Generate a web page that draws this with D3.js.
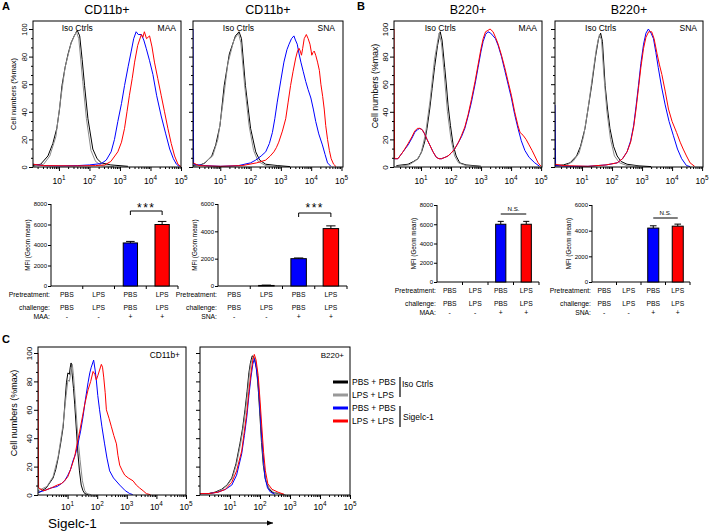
<!DOCTYPE html>
<html><head><meta charset="utf-8">
<script src="https://cdn.jsdelivr.net/npm/d3@7"></script>
<style>body{margin:0;background:#fff} svg{display:block;font-family:"Liberation Sans",Arial,sans-serif}</style>
</head><body><svg id="c" width="713" height="531"></svg>
<script>
// ---------------- DATA ----------------
// histogram curves: [log10(fluorescence), % of max]
const cd11bMAA_isoPBS = [[0.15,1],[0.4,2],[0.64,8],[0.8,17],[0.93,28],[1.02,42],[1.1,59],[1.2,72],[1.3,82],[1.4,90],[1.5,95],[1.6,99],[1.68,95],[1.76,78],[1.84,59],[1.95,35],[2.11,13],[2.25,6],[2.39,3],[2.7,1.5],[3.26,0.5]];
const cd11bMAA_isoLPS = [[0.15,0.5],[0.5,2],[0.7,8],[0.9,22],[1.05,48],[1.2,72],[1.4,90],[1.57,98],[1.65,93],[1.78,62],[1.9,35],[2.05,12],[2.2,4],[2.4,1],[2.8,0.3]];
const cd11bMAA_PBS = [[0.15,2],[0.5,1],[1.0,0.8],[1.6,1],[2.0,1.5],[2.39,2.5],[2.55,5],[2.71,11],[2.82,20],[2.93,33],[3.05,46],[3.15,59],[3.27,73],[3.37,84],[3.45,93],[3.53,98],[3.6,96],[3.7,96],[3.78,92],[3.86,86],[3.97,77],[4.08,67],[4.2,52],[4.35,37],[4.5,24],[4.63,13],[4.75,6],[4.85,2],[4.95,0.3]];
const cd11bMAA_LPS = [[0.15,2],[0.5,1],[1.5,0.8],[2.2,1],[2.5,1.5],[2.7,4],[2.93,11],[3.05,18],[3.15,28],[3.23,40],[3.31,52],[3.4,64],[3.48,76],[3.58,88],[3.7,96],[3.75,94],[3.8,98],[3.87,93],[3.97,95],[4.05,87],[4.13,76],[4.24,64],[4.35,52],[4.46,40],[4.57,28],[4.68,17],[4.79,8],[4.9,2],[5.0,0.3]];

const cd11bSNA_isoPBS = [[0.1,1],[0.29,1],[0.5,3],[0.72,8],[0.85,16],[0.99,30],[1.13,59],[1.3,82],[1.5,95],[1.62,98],[1.7,93],[1.83,59],[2.0,28],[2.17,11],[2.3,5],[2.5,2],[2.9,1],[3.3,0.3]];
const cd11bSNA_isoLPS = [[0.1,0.5],[0.4,1.5],[0.75,8],[0.92,20],[1.08,45],[1.25,75],[1.45,92],[1.6,97],[1.68,90],[1.8,60],[1.95,30],[2.1,12],[2.25,4],[2.5,1],[3.0,0.3]];
const cd11bSNA_PBS = [[0.1,100],[0.12,2],[0.5,1],[1.0,0.5],[1.6,1],[2.0,3],[2.17,5],[2.35,8],[2.5,11],[2.62,17],[2.72,25],[2.8,35],[2.88,47],[3.0,63],[3.1,76],[3.2,85],[3.27,89],[3.35,93],[3.43,95],[3.48,92],[3.54,89],[3.6,82],[3.66,76],[3.74,69],[3.82,62],[3.9,56],[3.99,50],[4.07,42],[4.15,33],[4.25,24],[4.37,16],[4.46,9],[4.54,3],[4.65,0.5]];
const cd11bSNA_LPS = [[0.1,3],[0.3,1],[1.0,0.5],[1.72,1],[2.2,3],[2.5,5],[2.65,8],[2.77,11],[2.85,14],[2.93,18],[3.05,26],[3.16,35],[3.24,47],[3.32,59],[3.4,69],[3.49,79],[3.55,84],[3.6,86],[3.64,84],[3.68,81],[3.72,86],[3.77,93],[3.84,96],[3.9,93],[3.96,89],[4.0,84],[4.02,81],[4.06,83],[4.1,84],[4.15,81],[4.21,76],[4.27,70],[4.32,60],[4.38,51],[4.43,42],[4.48,30],[4.54,20],[4.6,12],[4.66,6],[4.74,2],[4.82,0.3]];

const b220MAA_isoPBS = [[0.18,1],[0.57,2],[0.75,4],[0.9,6],[1.02,11],[1.12,18],[1.2,28],[1.29,42],[1.37,57],[1.45,72],[1.55,88],[1.64,98],[1.7,92],[1.79,72],[1.85,58],[1.9,45],[1.98,30],[2.07,16],[2.17,8],[2.29,3],[2.5,1.5],[3.0,0.5]];
const b220MAA_isoLPS = [[0.18,0.5],[0.6,1.5],[0.85,5],[1.0,10],[1.15,24],[1.3,48],[1.45,78],[1.6,97],[1.68,90],[1.77,68],[1.88,40],[2.0,20],[2.12,8],[2.25,3],[2.5,1],[3.0,0.3]];
const b220MAA_PBS = [[0.1,6],[0.23,6],[0.4,11],[0.57,16],[0.7,21],[0.79,25],[0.88,27],[0.96,28],[1.04,27],[1.12,24],[1.2,20],[1.29,16],[1.4,11],[1.51,7],[1.6,6],[1.68,6],[1.8,7],[1.9,8],[2.0,10],[2.12,13],[2.25,18],[2.35,22],[2.46,28],[2.57,37],[2.68,47],[2.8,60],[2.9,72],[3.0,84],[3.07,91],[3.15,96],[3.23,98],[3.32,97],[3.4,95],[3.48,93],[3.57,88],[3.68,80],[3.79,70],[3.9,60],[4.01,50],[4.12,38],[4.23,28],[4.34,19],[4.46,12],[4.6,7],[4.79,3],[4.95,0.5]];
const b220MAA_LPS = [[0.1,100],[0.12,6],[0.23,6],[0.4,11],[0.57,17],[0.7,22],[0.79,26],[0.88,28],[0.96,28],[1.04,27],[1.12,24],[1.2,20],[1.29,16],[1.4,11],[1.51,7],[1.6,6],[1.68,6],[1.8,7],[1.9,8],[2.0,10],[2.12,13],[2.25,18],[2.35,23],[2.46,29],[2.57,38],[2.68,49],[2.8,62],[2.9,74],[3.0,86],[3.07,93],[3.15,98],[3.23,99],[3.3,100],[3.4,98],[3.48,94],[3.57,89],[3.68,81],[3.79,72],[3.9,62],[4.01,52],[4.12,40],[4.23,30],[4.3,25],[4.4,23],[4.5,20],[4.6,16],[4.7,12],[4.79,8],[4.9,3],[5.0,0.5]];

const b220SNA_isoPBS = [[0.1,1],[0.38,1.5],[0.6,3],[0.82,8],[0.95,15],[1.1,28],[1.2,42],[1.32,59],[1.45,80],[1.55,93],[1.62,97],[1.68,91],[1.77,59],[1.85,42],[1.93,28],[2.05,15],[2.17,8],[2.3,4],[2.5,2],[2.9,0.8],[3.3,0.3]];
const b220SNA_isoLPS = [[0.1,0.5],[0.45,1],[0.7,4],[0.9,10],[1.05,22],[1.2,42],[1.35,66],[1.48,86],[1.58,96],[1.65,92],[1.73,66],[1.83,40],[1.95,20],[2.08,8],[2.25,3],[2.5,1],[3.0,0.3]];
const b220SNA_PBS = [[0.1,45],[0.12,1],[0.6,0.5],[1.2,0.5],[1.8,1.5],[2.17,3],[2.35,6],[2.5,11],[2.62,19],[2.72,30],[2.8,44],[2.88,59],[2.96,75],[3.05,89],[3.13,97],[3.21,100],[3.3,97],[3.38,93],[3.46,83],[3.54,72],[3.65,58],[3.77,45],[3.9,33],[4.04,23],[4.18,13],[4.32,6],[4.48,1],[4.6,0.3]];
const b220SNA_LPS = [[0.1,2],[0.4,1],[1.2,0.5],[1.8,1.5],[2.17,3],[2.35,6],[2.5,11],[2.62,18],[2.72,29],[2.8,42],[2.88,57],[2.96,72],[3.05,86],[3.13,94],[3.22,98],[3.32,98],[3.4,93],[3.5,82],[3.58,74],[3.66,67],[3.77,55],[3.88,42],[4.0,33],[4.15,25],[4.27,18],[4.37,13],[4.48,8],[4.6,3],[4.75,0.5]];

const siglecCD11b_isoPBS = [[0,2],[0.06,2],[0.28,5],[0.51,12],[0.6,18],[0.68,26],[0.77,37],[0.85,48],[0.9,62],[0.96,79],[1.01,86],[1.06,85],[1.09,90],[1.12,93],[1.15,86],[1.2,75],[1.24,64],[1.3,45],[1.35,29],[1.4,17],[1.46,7],[1.52,3],[1.58,1],[1.7,0.2]];
const siglecCD11b_isoLPS = [[0,3],[0.1,4],[0.3,6],[0.51,13],[0.68,27],[0.85,50],[0.95,70],[1.01,81],[1.06,80],[1.12,88],[1.16,92],[1.2,84],[1.27,64],[1.35,40],[1.42,25],[1.5,10],[1.58,3],[1.65,1],[1.8,0.2]];
const siglecCD11b_PBS = [[0.02,2],[0.2,3],[0.45,5],[0.65,6],[0.79,8],[0.9,10],[1.01,14],[1.1,18],[1.18,24],[1.27,29],[1.35,36],[1.44,45],[1.52,55],[1.6,67],[1.69,79],[1.75,86],[1.8,90],[1.88,95],[1.93,88],[1.97,81],[2.02,70],[2.08,60],[2.16,48],[2.25,36],[2.33,26],[2.42,17],[2.55,12],[2.76,7],[2.95,3],[3.1,1],[3.2,0.3]];
const siglecCD11b_LPS = [[0,100],[0.02,5],[0.2,3],[0.45,5],[0.65,7],[0.79,8],[0.9,10],[1.01,13],[1.1,18],[1.18,23],[1.24,27],[1.32,36],[1.41,45],[1.5,55],[1.58,64],[1.69,74],[1.78,80],[1.86,87],[1.92,85],[1.97,81],[2.02,84],[2.08,88],[2.14,92],[2.18,90],[2.22,83],[2.27,72],[2.31,60],[2.4,54],[2.48,48],[2.56,42],[2.65,36],[2.7,28],[2.76,21],[2.85,17],[2.93,14],[3.05,12],[3.21,10],[3.32,7],[3.43,5],[3.55,3],[3.66,1],[3.8,0.2]];

const siglecB220_isoPBS = [[0,1],[0.28,1],[0.5,2],[0.72,4],[0.9,7],[1.06,12],[1.2,22],[1.33,36],[1.42,47],[1.5,60],[1.57,73],[1.63,86],[1.68,93],[1.74,98],[1.8,97],[1.85,93],[1.89,88],[1.95,72],[2.0,55],[2.05,37],[2.11,21],[2.18,11],[2.28,5],[2.4,2],[2.61,1],[2.8,0.2]];
const siglecB220_isoLPS = [[0,1],[0.3,1],[0.55,2],[0.75,4],[0.92,7],[1.08,12],[1.22,22],[1.35,36],[1.44,47],[1.52,60],[1.59,73],[1.65,86],[1.7,93],[1.76,97],[1.82,96],[1.87,92],[1.91,86],[1.97,70],[2.02,53],[2.07,36],[2.13,20],[2.2,10],[2.3,5],[2.45,2],[2.65,1],[2.85,0.2]];
const siglecB220_PBS = [[0,1],[0.3,1],[0.6,2],[0.85,4],[1.06,7],[1.22,14],[1.39,29],[1.48,42],[1.56,55],[1.63,70],[1.7,83],[1.76,92],[1.81,96],[1.87,90],[1.94,79],[2.0,60],[2.06,40],[2.12,24],[2.17,12],[2.25,5],[2.35,2],[2.5,0.5]];
const siglecB220_LPS = [[0,1],[0.3,1],[0.6,2],[0.85,4],[1.06,9],[1.22,17],[1.39,31],[1.48,45],[1.56,58],[1.63,73],[1.7,86],[1.76,95],[1.81,99],[1.87,95],[1.94,84],[2.0,67],[2.06,48],[2.12,30],[2.18,17],[2.26,8],[2.4,4],[2.6,2],[2.8,0.5]];

const histYTicks = [0, 20, 40, 60, 80, 100];
const decades = [1, 2, 3, 4, 5];

// bar chart data
const pretreatment = ["PBS", "LPS", "PBS", "LPS"];
const challenge = ["PBS", "LPS", "PBS", "LPS"];
const lectinSign = ["-", "-", "+", "+"];
const barColors = ["#0000ff", "#ff0000", "#0000ff", "#ff0000"];
const mfiCD11bMAA = [0, 0, 4200, 6000];
const errCD11bMAA = [0, 0, 150, 300];
const mfiCD11bSNA = [0, 40, 2000, 4200];
const errCD11bSNA = [0, 25, 50, 200];
const mfiB220MAA = [0, 0, 6000, 6000];
const errB220MAA = [0, 0, 300, 300];
const mfiB220SNA = [0, 0, 4200, 4350];
const errB220SNA = [0, 0, 180, 160];
const yTicksMAA = [0, 2000, 4000, 6000, 8000];
const yTicksSNA = [0, 2000, 4000, 6000];

const legendLabels = ["PBS + PBS", "LPS + LPS", "PBS + PBS", "LPS + LPS"];
const legendColors = ["#000000", "#999999", "#0000ff", "#ff0000"];

// ---------------- DRAWING ----------------
const svg = d3.select("#c");
const defs = svg.append("defs");
const FONT = '"Liberation Sans",Arial,sans-serif';

function txt(x, y, s, size, anchor, opts) {
  const t = svg.append("text").attr("x", x).attr("y", y).text(s)
    .attr("font-size", size).attr("text-anchor", anchor || "start").attr("fill", "#000");
  if (opts && opts.bold) t.attr("font-weight", "bold");
  return t;
}

function hist(cfg) {
  const x = d3.scaleLinear().domain(cfg.xd).range([cfg.l, cfg.r]);
  const y = d3.scaleLinear().domain([0, 100]).range([cfg.b, cfg.y100]);
  const cid = "clip-" + cfg.id;
  defs.append("clipPath").attr("id", cid).append("rect")
    .attr("x", cfg.l).attr("y", cfg.t).attr("width", cfg.r - cfg.l).attr("height", cfg.b - cfg.t);
  const line = d3.line().x(d => x(d[0])).y(d => y(d[1]));
  const g = svg.append("g").attr("clip-path", `url(#${cid})`);
  cfg.curves.forEach(c => {
    g.append("path").datum(c.data).attr("d", line).attr("fill", "none")
      .attr("stroke", c.color).attr("stroke-width", 1).attr("stroke-linejoin", "round");
  });
  svg.append("rect").attr("x", cfg.l).attr("y", cfg.t).attr("width", cfg.r - cfg.l)
    .attr("height", cfg.b - cfg.t).attr("fill", "none").attr("stroke", "#000").attr("stroke-width", 1);
  // y axis
  const ya = svg.append("g").attr("transform", `translate(${cfg.l},0)`)
    .call(d3.axisLeft(y).tickValues(histYTicks).tickSize(4).tickFormat(cfg.ylab ? d3.format("d") : () => ""));
  ya.select(".domain").remove();
  ya.attr("font-family", FONT);
  ya.selectAll("text").attr("x", null).attr("dy", null)
    .attr("transform", "translate(-6,0) rotate(-90)").attr("text-anchor", "middle")
    .attr("font-size", cfg.yfs);
  const minorY = d3.range(0, 101, 20 / 3).filter(v => histYTicks.indexOf(Math.round(v)) < 0 || Math.abs(v - Math.round(v)) > 0.01);
  const ym = svg.append("g").attr("transform", `translate(${cfg.l},0)`)
    .call(d3.axisLeft(y).tickValues(minorY).tickSize(2).tickFormat(() => ""));
  ym.select(".domain").remove();
  // x axis
  const xa = svg.append("g").attr("transform", `translate(0,${cfg.b})`)
    .call(d3.axisBottom(x).tickValues(decades.filter(d => d <= cfg.xd[1])).tickSize(4).tickFormat(() => ""));
  xa.select(".domain").remove();
  const minorX = [];
  for (let n = 0; n < 5; n++) for (let k = 2; k <= 9; k++) {
    const v = n + Math.log10(k);
    if (v >= cfg.xd[0] && v <= cfg.xd[1]) minorX.push(v);
  }
  const xm = svg.append("g").attr("transform", `translate(0,${cfg.b})`)
    .call(d3.axisBottom(x).tickValues(minorX).tickSize(2).tickFormat(() => ""));
  xm.select(".domain").remove();
  decades.forEach(d => {
    const t = svg.append("text").attr("x", x(d)).attr("y", cfg.labY).attr("text-anchor", "middle")
      .attr("font-size", cfg.xfs).attr("fill", "#000").text("10");
    t.append("tspan").attr("dy", -cfg.xfs * 0.45).attr("font-size", cfg.xfs * 0.75).text(d);
  });
  // y label
  if (cfg.ylabel) {
    svg.append("text").attr("transform", `translate(${cfg.ylabel.x},${cfg.ylabel.y}) rotate(-90)`)
      .attr("text-anchor", "middle").attr("font-size", cfg.ylabel.fs).text("Cell numbers (%max)");
  }
  if (cfg.title) txt((cfg.l + cfg.r) / 2, 14, cfg.title, 12.5, "middle");
  if (cfg.iso) txt(x(cfg.iso), cfg.t + 10, "Iso Ctrls", 8.5, "middle");
  if (cfg.tag) txt(cfg.r - cfg.tagOff, cfg.t + cfg.tagDy, cfg.tag, cfg.tagFs, "end");
  return { x, y };
}

const axisCurves = (a, b, c, d) => [
  { data: a, color: "#000000" }, { data: b, color: "#8c8c8c" },
  { data: c, color: "#0000ff" }, { data: d, color: "#ff0000" }];

hist({ id: "a1", l: 33, r: 181, t: 21, b: 167, y100: 29, xd: [0.15, 5], ylab: true, yfs: 7.5, xfs: 8.5, labY: 184,
  ylabel: { x: 16, y: 94, fs: 7.5 }, title: "CD11b+", iso: 1.6, tag: "MAA", tagOff: 5, tagDy: 10, tagFs: 8.5,
  curves: axisCurves(cd11bMAA_isoPBS, cd11bMAA_isoLPS, cd11bMAA_PBS, cd11bMAA_LPS) });
hist({ id: "a2", l: 193, r: 343, t: 21, b: 167, y100: 29, xd: [0.1, 5.05], ylab: false, yfs: 7.5, xfs: 8.5, labY: 184,
  title: "CD11b+", iso: 1.6, tag: "SNA", tagOff: 8, tagDy: 10, tagFs: 8.5,
  curves: axisCurves(cd11bSNA_isoPBS, cd11bSNA_isoLPS, cd11bSNA_PBS, cd11bSNA_LPS) });
hist({ id: "b1", l: 394, r: 542, t: 21, b: 167, y100: 29, xd: [0.1, 5.03], ylab: true, yfs: 8, xfs: 8.5, labY: 184,
  ylabel: { x: 378, y: 86, fs: 8.8 }, title: "B220+", iso: 1.64, tag: "MAA", tagOff: 5, tagDy: 10, tagFs: 8.5,
  curves: axisCurves(b220MAA_isoPBS, b220MAA_isoLPS, b220MAA_PBS, b220MAA_LPS) });
hist({ id: "b2", l: 555, r: 703, t: 21, b: 167, y100: 29, xd: [0.1, 5.03], ylab: false, yfs: 8, xfs: 8.5, labY: 184,
  title: "B220+", iso: 1.62, tag: "SNA", tagOff: 6, tagDy: 10, tagFs: 8.5,
  curves: axisCurves(b220SNA_isoPBS, b220SNA_isoLPS, b220SNA_PBS, b220SNA_LPS) });
hist({ id: "c1", l: 38, r: 186, t: 347, b: 495, y100: 353, xd: [0, 5], ylab: true, yfs: 8, xfs: 8.5, labY: 510,
  ylabel: { x: 17, y: 413, fs: 9 }, tag: "CD11b+", tagOff: 6, tagDy: 11, tagFs: 8.4,
  curves: axisCurves(siglecCD11b_isoPBS, siglecCD11b_isoLPS, siglecCD11b_PBS, siglecCD11b_LPS) });
hist({ id: "c2", l: 200, r: 350, t: 347, b: 495, y100: 353, xd: [0, 5], ylab: false, yfs: 8, xfs: 8.5, labY: 510,
  tag: "B220+", tagOff: 6, tagDy: 11, tagFs: 8,
  curves: axisCurves(siglecB220_isoPBS, siglecB220_isoLPS, siglecB220_PBS, siglecB220_LPS) });

// panel letters
txt(2, 10, "A", 11, "start", { bold: true });
txt(357, 10, "B", 11, "start", { bold: true });
txt(2, 343, "C", 11, "start", { bold: true });

// bar charts
function barChart(cfg) {
  const x = d3.scaleBand().domain(d3.range(4)).range([cfg.x0, cfg.x1]).paddingInner(cfg.pad).paddingOuter(cfg.pad / 2);
  const y = d3.scaleLinear().domain([0, cfg.ymax]).range([cfg.y0, cfg.ytop]);
  const ya = svg.append("g").attr("transform", `translate(${cfg.x0},0)`)
    .call(d3.axisLeft(y).tickValues(cfg.ticks).tickSize(3).tickSizeOuter(0).tickPadding(1).tickFormat(d3.format("d")));
  ya.attr("font-family", FONT).attr("font-size", 6);
  ya.select(".domain").attr("d", `M0,${cfg.y0}V${cfg.ytop}`);
  // x axis
  svg.append("line").attr("x1", cfg.x0).attr("x2", cfg.x1).attr("y1", cfg.y0).attr("y2", cfg.y0).attr("stroke", "#000");
  for (let i = 1; i <= 4; i++) {
    const bx = cfg.x0 + i * x.step();
    svg.append("line").attr("x1", bx).attr("x2", bx).attr("y1", cfg.y0).attr("y2", cfg.y0 + 3).attr("stroke", "#000");
  }
  // bars
  cfg.vals.forEach((v, i) => {
    if (v <= 0) return;
    const bx = x(i), bw = x.bandwidth(), cx = bx + bw / 2;
    const e = cfg.errs[i];
    svg.append("line").attr("x1", cx).attr("x2", cx).attr("y1", y(v)).attr("y2", y(v + e)).attr("stroke", "#000");
    svg.append("line").attr("x1", cx - bw * 0.3).attr("x2", cx + bw * 0.3).attr("y1", y(v + e)).attr("y2", y(v + e)).attr("stroke", "#000");
    svg.append("rect").attr("x", bx).attr("y", y(v)).attr("width", bw).attr("height", Math.max(0.5, cfg.y0 - y(v)))
      .attr("fill", cfg.colors[i]).attr("stroke", "#000").attr("stroke-width", 1);
  });
  // y label
  svg.append("text").attr("transform", `translate(${cfg.x0 - 21},${(cfg.y0 + cfg.ytop) / 2}) rotate(-90)`)
    .attr("text-anchor", "middle").attr("font-size", 6.3).text("MFI (Geom mean)");
  // significance
  const c2 = x(2) + x.bandwidth() / 2, c3 = x(3) + x.bandwidth() / 2;
  const by = cfg.sigY;
  svg.append("path").attr("d", `M${c2},${by + cfg.leg}V${by}H${c3}V${by + cfg.leg}`).attr("fill", "none").attr("stroke", "#000");
  const st = txt((c2 + c3) / 2, by - cfg.sigDy, cfg.sig, cfg.sigFs, "middle");
  if (cfg.sigLs) st.attr("letter-spacing", cfg.sigLs);
  // rows
  const rows = [["Pretreatment:", pretreatment], ["challenge:", challenge], [cfg.lectin + ":", lectinSign]];
  rows.forEach((r, j) => {
    txt(cfg.x0 - 1, cfg.rowY[j], r[0], 6.8, "end");
    r[1].forEach((s, i) => txt(x(i) + x.bandwidth() / 2, cfg.rowY[j], s, 6.8, "middle"));
  });
}

barChart({ x0: 51, x1: 178, pad: 0.55, y0: 286, ytop: 204, ymax: 8000, ticks: yTicksMAA, vals: mfiCD11bMAA, errs: errCD11bMAA,
  colors: barColors, sig: "***", sigY: 211, leg: 4, sigDy: -1, sigFs: 12, sigLs: 1.5, lectin: "MAA", rowY: [296.5, 309.5, 318.5] });
barChart({ x0: 218, x1: 347, pad: 0.52, y0: 286, ytop: 204, ymax: 6000, ticks: yTicksSNA, vals: mfiCD11bSNA, errs: errCD11bSNA,
  colors: barColors, sig: "***", sigY: 213, leg: 4, sigDy: 1, sigFs: 12, sigLs: 1.5, lectin: "SNA", rowY: [296.5, 309.5, 318.5] });
barChart({ x0: 437, x1: 539, pad: 0.6, y0: 282, ytop: 205, ymax: 8000, ticks: yTicksMAA, vals: mfiB220MAA, errs: errB220MAA,
  colors: barColors, sig: "N.S.", sigY: 214, leg: 0, sigDy: 3, sigFs: 6.2, lectin: "MAA", rowY: [292.5, 305.5, 315] });
barChart({ x0: 592, x1: 690, pad: 0.55, y0: 282, ytop: 205, ymax: 6000, ticks: yTicksSNA, vals: mfiB220SNA, errs: errB220SNA,
  colors: barColors, sig: "N.S.", sigY: 218, leg: 0, sigDy: 3, sigFs: 6.2, lectin: "SNA", rowY: [292.5, 305.5, 315] });

// legend for C
const legY = [382, 395, 408, 421];
legendLabels.forEach((s, i) => {
  svg.append("line").attr("x1", 333).attr("x2", 348).attr("y1", legY[i]).attr("y2", legY[i])
    .attr("stroke", legendColors[i]).attr("stroke-width", 3);
  txt(352, legY[i] + 3, s, 8.5, "start");
});
svg.append("line").attr("x1", 400).attr("x2", 400).attr("y1", 377).attr("y2", 397).attr("stroke", "#000").attr("stroke-width", 1.2);
svg.append("line").attr("x1", 400).attr("x2", 400).attr("y1", 406).attr("y2", 427).attr("stroke", "#000").attr("stroke-width", 1.2);
txt(402, 387, "Iso Ctrls", 8.5, "start");
txt(403, 420, "Sigelc-1", 8.5, "start");

// Sigelc-1 axis label with arrow
txt(48, 528, "Sigelc-1", 13.5, "start");
defs.append("marker").attr("id", "arr").attr("viewBox", "0 0 10 10").attr("refX", 10).attr("refY", 5)
  .attr("markerWidth", 6).attr("markerHeight", 6).attr("orient", "auto")
  .append("path").attr("d", "M0,1L10,5L0,9Z").attr("fill", "#000");
svg.append("line").attr("x1", 120).attr("x2", 273).attr("y1", 523).attr("y2", 523)
  .attr("stroke", "#000").attr("stroke-width", 1).attr("marker-end", "url(#arr)");
</script></body></html>
